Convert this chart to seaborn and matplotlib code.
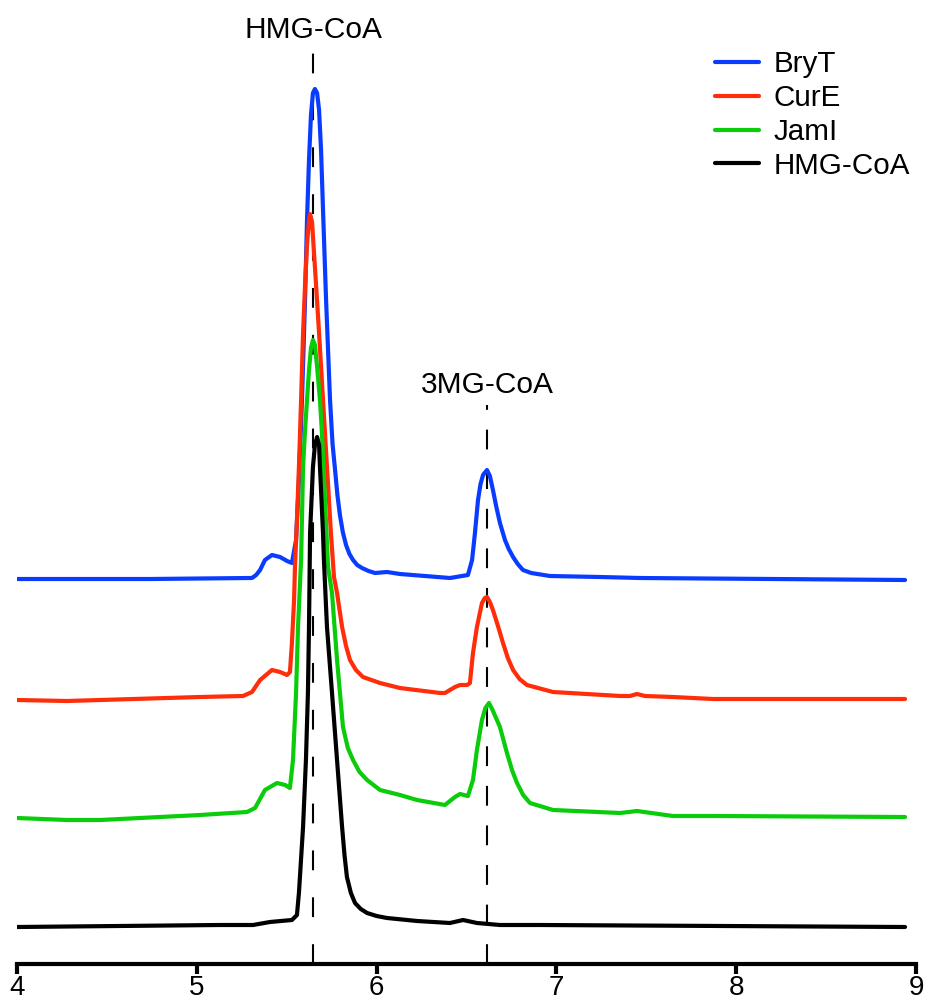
import numpy as np
import pandas as pd
import matplotlib
matplotlib.use("Agg")
import matplotlib.pyplot as plt
import seaborn as sns
from matplotlib import font_manager

# ---------------- data ----------------
series_names = ["BryT", "CurE", "JamI", "HMG-CoA"]
series_colors = ["#0A3CFF", "#FF2D0A", "#0ACC0A", "#000000"]
# vertical stacking offsets of each trace (same intensity units)
offsets = [385, 264, 146, 38]

bryt_t = [4.000, 4.740, 5.296, 5.307, 5.330, 5.352, 5.379, 5.418, 5.463, 5.502, 5.529,
          5.552, 5.568, 5.585, 5.602, 5.613, 5.624, 5.635, 5.646, 5.657, 5.669,
          5.680, 5.691, 5.702, 5.719, 5.741, 5.755, 5.769, 5.782, 5.796, 5.812, 5.830,
          5.849, 5.869, 5.892, 5.919, 5.955,
          5.991, 6.058, 6.130, 6.408, 6.508, 6.531, 6.547, 6.564, 6.578, 6.592, 6.614,
          6.630, 6.647, 6.666, 6.686, 6.714, 6.735, 6.759, 6.785, 6.814, 6.860, 6.964,
          7.243, 7.465, 8.939]
bryt_i = [0, 0, 1, 1, 4, 9, 19, 24, 22, 18, 16,
          39, 99, 179, 279, 359, 419, 464, 486, 490, 486,
          469, 429, 369, 279, 179, 135, 109, 84, 64, 47, 34,
          25, 19, 14, 11, 8,
          6, 7, 5, 1, 4, 19, 46, 79, 95, 104, 109,
          103, 89, 72, 56, 39, 30, 22, 15, 9, 6, 3,
          2, 1, -1]

cure_t = [4.000, 4.278, 5.018, 5.257, 5.307, 5.352, 5.418, 5.463, 5.502, 5.518,
          5.529, 5.541, 5.546, 5.557, 5.568, 5.580, 5.591, 5.602, 5.613, 5.624,
          5.630, 5.641, 5.657, 5.680, 5.702, 5.724, 5.746, 5.763, 5.780, 5.808,
          5.830, 5.852, 5.885, 5.924, 6.019, 6.130, 6.353, 6.380, 6.436, 6.464, 6.503, 6.519,
          6.536, 6.558, 6.586, 6.602, 6.614, 6.630, 6.647, 6.675, 6.703, 6.730, 6.759, 6.795,
          6.836, 6.981, 7.354, 7.409, 7.448, 7.493, 7.648, 7.871, 8.939]
cure_i = [0, -1, 3, 4, 8, 20, 30, 28, 25, 28,
          57, 100, 133, 180, 233, 300, 367, 415, 455, 480,
          486, 478, 433, 367, 300, 233, 167, 123, 107, 73,
          54, 40, 30, 23, 17, 12, 7, 7, 13, 15, 15, 17,
          47, 73, 97, 102, 103, 98, 90, 74, 57, 42, 30, 21,
          15, 8, 4, 4, 6, 4, 3, 1, 1]

jami_t = [4.000, 4.278, 4.462, 5.018, 5.279, 5.324, 5.379, 5.446, 5.491, 5.518,
          5.535, 5.552, 5.563, 5.580, 5.591, 5.602, 5.613, 5.624, 5.635, 5.646,
          5.657, 5.669, 5.685, 5.696, 5.713, 5.730, 5.752, 5.780, 5.813, 5.840, 5.869,
          5.905, 5.947, 6.019, 6.130, 6.225, 6.380, 6.436, 6.464, 6.508, 6.536, 6.558,
          6.586, 6.605, 6.625, 6.645, 6.686, 6.725, 6.755, 6.781, 6.815, 6.853, 6.981,
          7.354, 7.448, 7.648, 7.871, 8.939]
jami_i = [0, -2, -2, 3, 6, 10, 28, 35, 33, 30,
          58, 125, 191, 258, 351, 388, 418, 448, 470, 478,
          473, 451, 418, 385, 318, 251, 225, 158, 91, 70, 58,
          46, 38, 28, 23, 18, 13, 21, 24, 22, 38, 68,
          98, 110, 115, 108, 91, 65, 47, 35, 23, 15, 8,
          5, 7, 2, 2, 1]

hmg_t = [4.000, 5.129, 5.313, 5.407, 5.529, 5.557, 5.568, 5.591, 5.607, 5.618,
         5.624, 5.630, 5.646, 5.657, 5.669, 5.680, 5.685, 5.702, 5.707, 5.724,
         5.752, 5.780, 5.808, 5.822, 5.835, 5.857, 5.880, 5.912, 5.947, 6.000, 6.058,
         6.225, 6.408, 6.481, 6.558, 6.686, 6.909, 8.939]
hmg_i = [-1, 1, 1, 4, 6, 11, 33, 99, 166, 233,
         299, 393, 459, 481, 489, 481, 459, 393, 366, 299,
         233, 166, 99, 70, 49, 33, 23, 17, 13, 10, 8,
         5, 3, 6, 3, 1, 1, -1]

marker_names = ["HMG-CoA", "3MG-CoA"]
marker_times = [5.646, 6.614]
x_ticks = [4, 5, 6, 7, 8, 9]

# ---------------- fonts ----------------
sns.set_theme(style="white")
names = {f.name for f in font_manager.fontManager.ttflist}
main_font = "Liberation Sans" if "Liberation Sans" in names else "DejaVu Sans"
narrow_font = "Liberation Sans Narrow" if "Liberation Sans Narrow" in names else main_font
narrow_ok = narrow_font == "Liberation Sans Narrow"
plt.rcParams["font.family"] = [main_font, "DejaVu Sans"]
plt.rcParams["text.color"] = "black"
plt.rcParams["xtick.color"] = "black"
plt.rcParams["xtick.labelcolor"] = "black"

# ---------------- build long table ----------------
frames = []
for name, t, i, off in zip(series_names,
                           [bryt_t, cure_t, jami_t, hmg_t],
                           [bryt_i, cure_i, jami_i, hmg_i], offsets):
    frames.append(pd.DataFrame({"time": t,
                                "signal": np.asarray(i, float) + off,
                                "sample": name}))
df = pd.concat(frames, ignore_index=True)

W, H = 925, 1002
fig = plt.figure(figsize=(W / 100, H / 100), dpi=100)
ax = fig.add_axes([17 / W, 38 / H, 899 / W, 954 / H])

sns.lineplot(data=df, x="time", y="signal", hue="sample",
             hue_order=series_names, palette=series_colors,
             sort=False, estimator=None, linewidth=3.0, ax=ax,
             solid_joinstyle="round", solid_capstyle="round")

# dashed marker lines and labels
marker_tops = [912, 559]
label_y = [934, 579]
dash_styles = [(0, (9.5, 13)), (0, (9.5, 9.5))]
for name, t, top, ly, ds in zip(marker_names, marker_times, marker_tops, label_y, dash_styles):
    ax.plot([t, t], [0, top], color="black", lw=1.5, linestyle=ds, zorder=1)
    ax.text(t, ly, name, ha="center", va="center", fontsize=21.5,
            family=[main_font, "DejaVu Sans"], color="black")

ax.set_xlim(4, 9)
ax.set_ylim(0, 954)
ax.set_xticks(x_ticks)
ax.set_xticklabels([str(v) for v in x_ticks], family=[narrow_font, "DejaVu Sans"],
                   fontsize=23 if narrow_ok else 20, color="black")
ax.set_yticks([])
ax.set_xlabel("")
ax.set_ylabel("")
for s in ["top", "right", "left"]:
    ax.spines[s].set_visible(False)
ax.spines["bottom"].set_linewidth(3.0)
ax.spines["bottom"].set_color("black")
ax.tick_params(axis="x", direction="out", length=7, width=3.0, color="black",
               pad=1.0, bottom=True, labelcolor="black")
ax.patch.set_visible(False)

leg = ax.legend(loc="upper left", bbox_to_anchor=(0.776, 0.958), frameon=False,
                fontsize=21.3, handlelength=1.5, handletextpad=0.5,
                labelspacing=0.2, borderpad=0, borderaxespad=0)
for line in leg.get_lines():
    line.set_linewidth(3.0)
for txt in leg.get_texts():
    txt.set_color("black")

fig.savefig("out.png", dpi=100, facecolor="white")
